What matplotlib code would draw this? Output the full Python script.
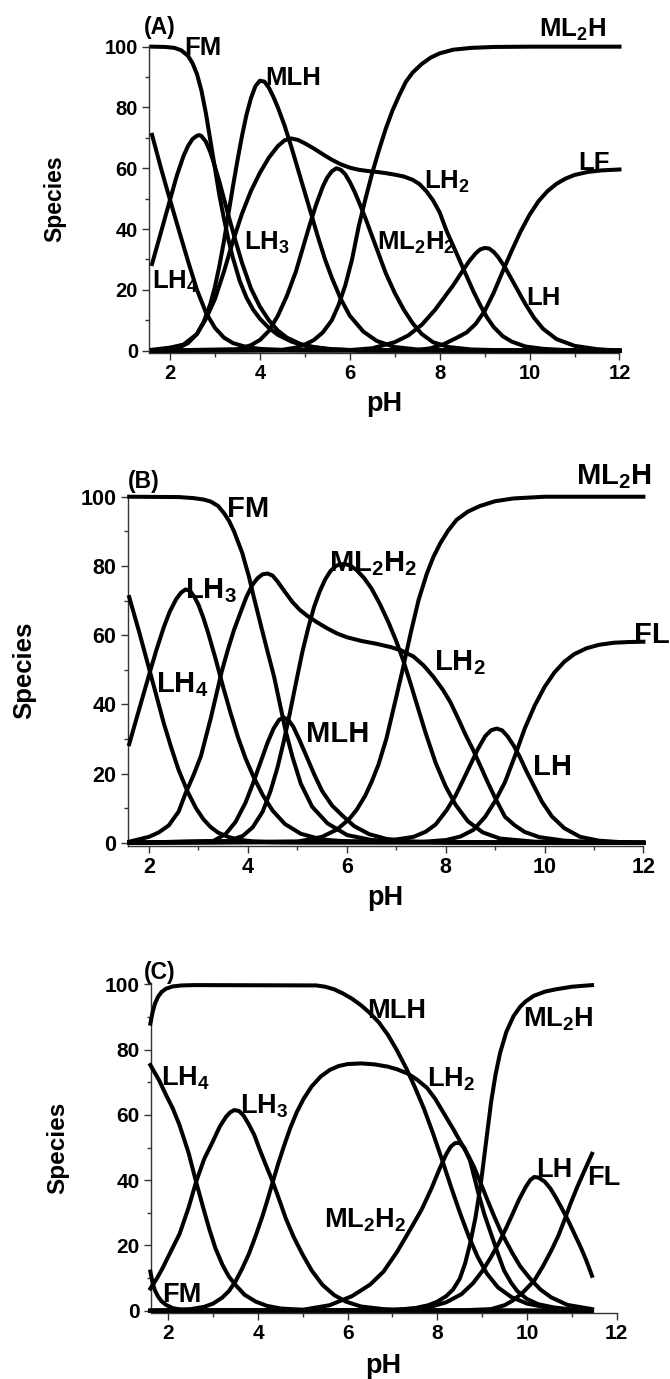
import matplotlib
matplotlib.use('Agg')
import matplotlib.pyplot as plt
from matplotlib.ticker import MultipleLocator

plt.rcParams['font.family'] = ['Liberation Sans', 'DejaVu Sans']
plt.rcParams['font.weight'] = 'bold'
plt.rcParams['mathtext.fontset'] = 'custom'
plt.rcParams['mathtext.rm'] = 'Liberation Sans:bold'
plt.rcParams['mathtext.it'] = 'Liberation Sans:bold'
plt.rcParams['mathtext.bf'] = 'Liberation Sans:bold'
plt.rcParams['mathtext.default'] = 'rm'

# ---------------- panel A ----------------
ph_fm_a = [1.6, 1.9, 2.1, 2.25, 2.4, 2.5, 2.6, 2.7, 2.8, 2.9, 3.0, 3.1, 3.2, 3.3, 3.4, 3.55, 3.7, 3.85,
           4.0, 4.2, 4.4, 4.7, 5.0, 5.5, 6.2, 12]
fm_a = [100, 99.9, 99.6, 98.8, 97, 94.6, 91, 85.5, 78, 69, 60, 51, 43.5, 36.5, 30.5, 23, 17.5, 13.5,
        10.5, 7.5, 5.2, 3, 1.6, 0.5, 0.1, 0]
ph_lh4_a = [1.6, 1.8, 2.0, 2.2, 2.4, 2.6, 2.8, 3.0, 3.2, 3.4, 3.7, 4.0, 4.5, 5.2, 12]
lh4_a = [71, 60, 49.6, 39.5, 29.5, 20, 12.5, 7.5, 4.3, 2.5, 1.2, 0.6, 0.2, 0.05, 0]
ph_lh3_a = [1.6, 1.8, 2.0, 2.15, 2.3, 2.4, 2.5, 2.6, 2.65, 2.7, 2.8, 2.9, 3.0, 3.1, 3.2, 3.3, 3.45,
            3.6, 3.8, 4.0, 4.2, 4.4, 4.6, 4.9, 5.2, 5.6, 6.2, 12]
lh3_a = [28.5, 39, 49.6, 57.5, 64, 67.3, 69.6, 70.7, 70.9, 70.6, 68.7, 65.2, 60.5, 55.5, 50, 44.5,
         36.5, 29, 20.5, 14.5, 10, 6.6, 4.3, 2.2, 1.2, 0.5, 0.1, 0]
ph_mlh_a = [1.6, 2.0, 2.2, 2.4, 2.6, 2.75, 2.9, 3.0, 3.1, 3.2, 3.3, 3.4, 3.5, 3.6, 3.7, 3.8, 3.9, 4.0,
            4.1, 4.2, 4.3, 4.4, 4.55, 4.7, 4.85, 5.0, 5.15, 5.3, 5.45, 5.6, 5.8, 6.0, 6.3, 6.6, 7.0,
            7.5, 8.2, 12]
mlh_a = [0, 0.4, 1, 2.5, 5.5, 9.5, 15.5, 21, 28, 36, 45, 54, 62.5, 70.5, 77.5, 83, 87, 88.8, 88.5,
         86.5, 83.5, 80, 74, 67, 59.5, 52, 44.5, 37, 30, 24, 17, 11.5, 6.3, 3.2, 1.2, 0.4, 0.1, 0]
ph_lh2_a = [1.6, 2.0, 2.3, 2.6, 2.8, 3.0, 3.2, 3.4, 3.6, 3.8, 4.0, 4.2, 4.4, 4.55, 4.7, 4.85, 5.0,
            5.2, 5.4, 5.6, 5.8, 6.0, 6.2, 6.4, 6.6, 6.8, 7.0, 7.2, 7.4, 7.55, 7.7, 7.85, 8.0, 8.15,
            8.3, 8.45, 8.6, 8.75, 8.9, 9.05, 9.2, 9.4, 9.6, 9.9, 10.3, 10.8, 12]
lh2_a = [0.3, 1, 2, 5.5, 10.5, 17, 26, 36, 45, 52.5, 58.5, 63.5, 67.3, 69.2, 69.8, 69.3, 68.2,
         66.5, 64.6, 62.8, 61.3, 60.2, 59.5, 59.1, 58.8, 58.4, 57.9, 57.3, 56.2, 54.8, 52.5, 49.5,
         45.5, 39.5, 34.5, 29.5, 24.5, 19.5, 15, 11, 7.8, 4.8, 3, 1.4, 0.6, 0.2, 0]
ph_ml2h2_a = [1.6, 3.5, 3.8, 4.0, 4.2, 4.4, 4.6, 4.8, 4.95, 5.1, 5.25, 5.4, 5.5, 5.6, 5.7, 5.8, 5.9,
              6.0, 6.1, 6.2, 6.35, 6.5, 6.65, 6.8, 7.0, 7.2, 7.4, 7.6, 7.85, 8.2, 8.7, 9.5, 12]
ml2h2_a = [0, 0.5, 1.8, 3.5, 6.5, 11.5, 18, 26, 33.5, 41, 48, 54, 57, 59, 60, 59.5, 58, 55.5, 52.5,
           49, 43.5, 37.5, 31.5, 25.5, 19, 13.5, 9, 5.5, 2.8, 1.2, 0.4, 0.1, 0]
ph_ml2h_a = [1.6, 4.5, 4.8, 5.0, 5.2, 5.4, 5.6, 5.75, 5.9, 6.05, 6.2, 6.35, 6.5, 6.65, 6.8, 6.95,
             7.1, 7.25, 7.4, 7.6, 7.8, 8.0, 8.3, 8.7, 9.2, 10, 12]
ml2h_a = [0, 0.3, 1, 2, 3.5, 6, 10, 15, 21.5, 30, 41, 50, 58.5, 66, 73, 79, 84, 88.5, 91.5, 94.3,
          96.4, 97.8, 99, 99.6, 99.9, 100, 100]
ph_lh_a = [1.6, 6.0, 6.5, 7.0, 7.3, 7.6, 7.9, 8.1, 8.3, 8.5, 8.65, 8.8, 8.9, 9.0, 9.1, 9.2, 9.3,
           9.45, 9.6, 9.75, 9.9, 10.1, 10.3, 10.6, 11.0, 11.5, 12]
lh_a = [0, 0.2, 0.8, 2.8, 5, 8.5, 13.5, 17.5, 21.5, 26, 29.3, 32, 33.3, 33.8, 33.6, 32.5, 30.8,
        27.5, 23.5, 19.5, 15.5, 10.8, 7.2, 3.8, 1.6, 0.5, 0]
ph_lf_a = [1.6, 7.5, 7.8, 8.1, 8.4, 8.6, 8.8, 9.0, 9.2, 9.4, 9.6, 9.8, 10.0, 10.2, 10.4, 10.6, 10.8,
           11.0, 11.3, 11.6, 12]
lf_a = [0, 0.2, 0.8, 2.2, 4.4, 6, 8.8, 13, 19, 26, 32.8, 39.2, 44.7, 49.2, 52.5, 54.9, 56.6, 57.8,
        58.8, 59.3, 59.6]

# ---------------- panel B ----------------
ph_fm_b = [1.6, 2.6, 2.9, 3.1, 3.25, 3.4, 3.52, 3.62, 3.72, 3.8, 3.89, 3.96, 4.02, 4.12, 4.26, 4.39,
           4.53, 4.66, 4.76, 4.9, 5.07, 5.3, 5.61, 6.01, 6.5, 7.2, 12]
fm_b = [100, 99.9, 99.6, 99.2, 98.6, 97.3, 95.2, 93, 90, 87, 83.6, 80, 77, 71, 63, 55.7, 48, 39.3,
        32.6, 24.9, 17.1, 10.4, 5.6, 2.2, 0.8, 0.2, 0]
ph_lh4_b = [1.6, 1.8, 2.02, 2.15, 2.3, 2.45, 2.6, 2.78, 2.95, 3.1, 3.25, 3.4, 3.6, 3.8, 4.1, 4.5,
            5.2, 12]
lh4_b = [71, 61, 49.4, 42.5, 34.5, 27.5, 21, 14.8, 10, 6.8, 4.5, 2.9, 1.7, 0.9, 0.4, 0.15, 0.05, 0]
ph_lh3_b = [1.6, 1.83, 2.02, 2.15, 2.3, 2.42, 2.55, 2.65, 2.74, 2.83, 2.92, 3.0, 3.1, 3.2, 3.35,
            3.5, 3.65, 3.8, 3.95, 4.1, 4.3, 4.5, 4.75, 5.07, 5.5, 6.2, 12]
lh3_b = [28.5, 40, 49.4, 55.7, 62.3, 66.8, 70.4, 72.3, 73.2, 72.8, 71, 68.8, 65, 60.5, 53, 45,
         37.5, 30.5, 24.5, 19.5, 13.8, 9.3, 5.4, 2.6, 0.9, 0.2, 0]
ph_mlh_b = [1.6, 3.3, 3.55, 3.75, 3.95, 4.1, 4.25, 4.4, 4.52, 4.63, 4.72, 4.82, 4.92, 5.05, 5.2,
            5.35, 5.5, 5.7, 5.9, 6.15, 6.45, 6.8, 7.3, 8.0, 12]
mlh_b = [0, 0.5, 2.5, 6, 11.5, 17, 23, 29, 33, 35.5, 36.2, 35.5, 33.5, 29.5, 24.5, 19.5, 15, 10.8,
         8, 4.8, 2.5, 1.1, 0.4, 0.1, 0]
ph_lh2_b = [1.6, 2.0, 2.2, 2.4, 2.6, 2.74, 2.9, 3.05, 3.25, 3.47, 3.6, 3.72, 3.85, 3.97, 4.09, 4.2,
            4.3, 4.4, 4.5, 4.6, 4.75, 4.9, 5.05, 5.2, 5.4, 5.6, 5.8, 6.0, 6.3, 6.6, 6.9, 7.1, 7.35,
            7.55, 7.75, 7.95, 8.1, 8.25, 8.4, 8.55, 8.7, 8.85, 9.0, 9.2, 9.4, 9.6, 9.9, 10.4, 11, 12]
lh2_b = [0.3, 1.7, 3, 5, 9, 14.3, 19.5, 25, 36, 49.4, 56, 61.5, 66.5, 71, 74.5, 76.5, 77.6, 77.8,
         77.2, 75.5, 72.5, 69.6, 67.3, 65.6, 63.7, 62, 60.5, 59.4, 58.3, 57.5, 56.5, 55.6, 53.8,
         51.3, 48, 44.1, 40.5, 36, 31.3, 27, 22.3, 17.5, 13, 7.5, 5, 3.1, 1.6, 0.6, 0.2, 0]
ph_ml2h2_b = [1.6, 3.6, 3.9, 4.1, 4.3, 4.46, 4.6, 4.73, 4.85, 4.97, 5.1, 5.22, 5.34, 5.45, 5.56,
              5.67, 5.78, 5.88, 5.98, 6.08, 6.2, 6.35, 6.5, 6.67, 6.85, 7.0, 7.14, 7.28, 7.45, 7.6,
              7.8, 8.0, 8.2, 8.45, 8.75, 9.1, 9.8, 12]
ml2h2_b = [0, 0.5, 2, 4.5, 9, 15, 21.8, 29.5, 37.5, 46, 55, 62, 68.2, 72.5, 76, 78.5, 80, 80.5,
           80.5, 80, 78.8, 76.5, 73.5, 69, 63.5, 58.3, 52.8, 46.5, 38.5, 31.5, 23, 16.3, 11, 6.2,
           3, 1.2, 0.3, 0]
ph_ml2h_b = [1.6, 5.0, 5.5, 5.8, 6.04, 6.2, 6.37, 6.5, 6.64, 6.8, 6.95, 7.13, 7.3, 7.45, 7.62, 7.75,
             7.89, 8.05, 8.22, 8.45, 8.69, 9.0, 9.37, 10, 12]
ml2h_b = [0, 0.3, 1.7, 3.8, 6.7, 9.5, 13.5, 17.5, 22.5, 30, 39, 50, 61, 70, 77.8, 82.5, 86.5, 90.2,
          93.3, 95.7, 97.3, 98.7, 99.5, 100, 100]
ph_lh_b = [1.6, 6.8, 7.35, 7.6, 7.8, 8.02, 8.2, 8.35, 8.5, 8.65, 8.8, 8.92, 9.03, 9.14, 9.25, 9.38,
           9.5, 9.64, 9.8, 9.95, 10.15, 10.4, 10.72, 11.1, 11.5, 12]
lh_b = [0, 0.5, 1.7, 3.2, 5.3, 9.4, 13.6, 18, 22.5, 27, 30.8, 32.5, 33, 32.5, 30.8, 28, 24.8, 20.5,
        16, 11.8, 7.6, 4.2, 1.7, 0.6, 0.2, 0]
ph_fl_b = [1.6, 7.5, 8.02, 8.3, 8.56, 8.8, 9.0, 9.2, 9.4, 9.6, 9.8, 10.0, 10.2, 10.4, 10.6, 10.85,
           11.1, 11.4, 11.7, 12]
fl_b = [0, 0.2, 0.8, 1.8, 3.7, 7.5, 12, 17.5, 25, 33, 39.6, 45, 49.2, 52.3, 54.5, 56.2, 57.2, 57.8,
        58, 58.1]

# ---------------- panel C ----------------
ph_mlh_c = [1.6, 1.65, 1.7, 1.77, 1.85, 1.95, 2.1, 2.3, 2.6, 5.3, 5.5, 5.7, 5.9, 6.1, 6.3, 6.5,
            6.7, 6.9, 7.1, 7.3, 7.5, 7.7, 7.9, 8.1, 8.3, 8.5, 8.7, 8.9, 9.1, 9.35, 9.65, 10.0, 10.5,
            11.0, 11.45]
mlh_c = [88, 91.5, 94, 96.2, 97.7, 98.7, 99.4, 99.7, 99.8, 99.7, 99.3, 98.5, 97.2, 95.6, 93.6,
         91.2, 88.3, 84.5, 79.8, 74.5, 68.5, 62, 54.5, 46.5, 38.2, 30.2, 22.8, 16.5, 11.5, 7.2, 4.2,
         2.2, 0.8, 0.3, 0.1]
ph_lh4_c = [1.6, 1.8, 1.95, 2.1, 2.25, 2.45, 2.62, 2.78, 2.91, 3.05, 3.21, 3.35, 3.5, 3.7, 3.95,
            4.2, 4.5, 5.2, 11.45]
lh4_c = [75.3, 70.5, 66.1, 62, 56.9, 48.5, 39.5, 31.5, 25.2, 19.2, 14, 10.5, 7.9, 4.9, 2.8, 1.5,
         0.7, 0.1, 0]
ph_lh3_c = [1.6, 1.75, 1.87, 2.05, 2.25, 2.45, 2.62, 2.8, 2.99, 3.15, 3.29, 3.38, 3.47, 3.58, 3.68,
            3.8, 3.92, 4.03, 4.18, 4.33, 4.48, 4.62, 4.8, 5.0, 5.2, 5.44, 5.7, 5.96, 6.3, 6.8, 7.5,
            11.45]
lh3_c = [6.8, 10, 13, 18, 23.5, 31.5, 39.5, 46.5, 51.8, 56.5, 59.5, 60.8, 61.5, 61.2, 59.8, 57,
         53.8, 49.7, 44.5, 39.5, 33.8, 28.3, 22.5, 17.1, 12.3, 7.9, 4.8, 2.8, 1.3, 0.5, 0.1, 0]
ph_fm_c = [1.6, 1.65, 1.7, 1.77, 1.85, 1.95, 2.1, 2.3, 2.6, 11.45]
fm_c = [12, 8.5, 6.3, 4.4, 2.9, 1.8, 0.8, 0.3, 0.1, 0]
ph_lh2_c = [1.6, 2.5, 2.8, 3.0, 3.2, 3.35, 3.5, 3.65, 3.8, 3.95, 4.1, 4.22, 4.33, 4.45, 4.58, 4.72,
            4.87, 5.02, 5.2, 5.4, 5.6, 5.8, 6.0, 6.3, 6.6, 6.9, 7.1, 7.34, 7.55, 7.77, 7.95, 8.15,
            8.35, 8.54, 8.7, 8.82, 8.97, 9.11, 9.25, 9.4, 9.55, 9.68, 9.85, 10.06, 10.3, 10.54,
            10.9, 11.45]
lh2_c = [0, 0.5, 1.2, 2.2, 4, 6, 9, 13, 17.5, 23, 29, 34.3, 39.5, 45, 50.5, 56, 61, 65, 68.8, 71.8,
         73.8, 75, 75.6, 75.8, 75.5, 74.8, 74, 72.7, 70.8, 68.3, 65, 60.4, 55.8, 51.2, 47.3, 44, 39,
         34.2, 29.5, 24.8, 20.8, 17.5, 13.6, 10, 6.5, 4.1, 1.8, 0.5]
ph_ml2h2_c = [1.6, 5.0, 5.6, 6.1, 6.5, 6.8, 7.1, 7.4, 7.65, 7.87, 8.05, 8.2, 8.3, 8.4, 8.5, 8.6,
              8.73, 8.92, 9.05, 9.2, 9.35, 9.49, 9.65, 9.78, 10.0, 10.25, 10.6, 10.92, 11.45]
ml2h2_c = [0, 0.3, 1.7, 4.5, 8, 12, 18, 25, 31, 37.5, 43.5, 48, 50.3, 51.4, 51.4, 50, 46, 35.8,
           29.5, 23.5, 17.5, 12.3, 8.5, 6.1, 3.6, 2, 1, 0.5, 0.1]
ph_ml2h_c = [1.6, 7.0, 7.5, 7.8, 8.0, 8.2, 8.35, 8.5, 8.62, 8.73, 8.85, 8.97, 9.11, 9.2, 9.3, 9.4,
             9.54, 9.7, 9.85, 9.97, 10.15, 10.4, 10.64, 11.0, 11.45]
ml2h_c = [0, 0.2, 0.8, 1.7, 2.8, 4.5, 6.5, 9.8, 14.5, 20.5, 28.5, 38.9, 54.2, 64, 72.5, 79, 85.5,
          90.3, 93.2, 94.8, 96.5, 97.8, 98.5, 99.3, 99.8]
ph_lh_c = [1.6, 7.0, 7.8, 8.2, 8.54, 8.8, 9.01, 9.2, 9.4, 9.55, 9.68, 9.82, 9.97, 10.07, 10.16,
           10.26, 10.4, 10.52, 10.64, 10.78, 10.92, 11.06, 11.2, 11.32, 11.45]
lh_c = [0, 0.2, 1, 2.6, 5.1, 8.5, 12.3, 16.5, 21.5, 25.8, 29.7, 34, 37.9, 40, 41, 40.8, 39.5, 37.5,
        34.8, 31.3, 27.6, 23.5, 19.4, 15.5, 10.7]
ph_fl_c = [1.6, 8.5, 9.2, 9.5, 9.68, 9.9, 10.16, 10.35, 10.54, 10.7, 10.83, 10.97, 11.12, 11.3, 11.45]
fl_c = [0, 0.1, 0.5, 1.7, 3.1, 5.5, 9.2, 13.5, 18.4, 23, 27.6, 32.8, 37.9, 43.5, 48.1]

curves_a = [(ph_fm_a, fm_a), (ph_lh4_a, lh4_a), (ph_lh3_a, lh3_a), (ph_mlh_a, mlh_a),
            (ph_lh2_a, lh2_a), (ph_ml2h2_a, ml2h2_a), (ph_ml2h_a, ml2h_a), (ph_lh_a, lh_a),
            (ph_lf_a, lf_a)]
curves_b = [(ph_fm_b, fm_b), (ph_lh4_b, lh4_b), (ph_lh3_b, lh3_b), (ph_mlh_b, mlh_b),
            (ph_lh2_b, lh2_b), (ph_ml2h2_b, ml2h2_b), (ph_ml2h_b, ml2h_b), (ph_lh_b, lh_b),
            (ph_fl_b, fl_b)]
curves_c = [(ph_mlh_c, mlh_c), (ph_lh4_c, lh4_c), (ph_lh3_c, lh3_c), (ph_fm_c, fm_c),
            (ph_lh2_c, lh2_c), (ph_ml2h2_c, ml2h2_c), (ph_ml2h_c, ml2h_c), (ph_lh_c, lh_c),
            (ph_fl_c, fl_c)]

# species names shown next to the curves
names_a = ['FM', 'MLH', r'ML$_2$H', 'LF', r'LH$_2$', r'LH$_3$', r'ML$_2$H$_2$', r'LH$_4$', 'LH']
names_b = ['FM', r'ML$_2$H', r'ML$_2$H$_2$', r'LH$_3$', 'FL', r'LH$_2$', r'LH$_4$', 'MLH', 'LH']
names_c = ['MLH', r'ML$_2$H', r'LH$_4$', r'LH$_2$', r'LH$_3$', 'LH', 'FL', r'ML$_2$H$_2$', 'FM']

fig = plt.figure(figsize=(6.7, 13.79), dpi=100)

# label anchors (left pH, baseline) for each panel
anchors_a = [(2.31, 97.3), (4.12, 87.3), (10.2, 103.3), (11.08, 59.4), (7.65, 53.1), (3.65, 33.1),
             (6.6, 33.1), (1.6, 20.5), (9.93, 15.0)]
anchors_b = [(3.58, 94.2), (10.63, 103.7), (5.65, 78.6), (2.73, 70.8), (11.8, 57.6), (7.77, 49.9),
             (2.15, 43.4), (5.18, 29.2), (9.77, 19.6)]
anchors_c = [(6.44, 89.6), (9.92, 87.2), (1.84, 69.1), (7.77, 68.6), (3.59, 60.6), (10.2, 40.9),
             (11.35, 38.4), (5.48, 25.6), (1.86, 2.6)]

panels = [
    ('(A)', curves_a, names_a, anchors_a, [0.2224, 0.7438, 0.7022, 0.2236], (1.533, 12),
     (-0.86, 100.56), (1.78, 104.0), 18.5, 14.5, 16.5, -0.164),
    ('(B)', curves_b, names_b, anchors_b, [0.1904, 0.3865, 0.7699, 0.2548], (1.567, 12),
     (-0.95, 100.6), (1.885, 102.5), 21, 15.5, 18.5, -0.148),
    ('(C)', curves_c, names_c, anchors_c, [0.2249, 0.0476, 0.6955, 0.2397], (1.607, 12),
     (-0.8, 100.5), (1.81, 101.8), 19.5, 15, 17.5, -0.159),
]

for tag, curves, names, anchors, rect, xl, yl, tagpos, lab_fs, tick_fs, ax_fs, xlab_y in panels:
    ax = fig.add_axes(rect)
    for ph, val in curves:
        ax.plot(ph, val, color='black', lw=2.9, clip_on=False, zorder=3)
    ax.set_xlim(*xl)
    ax.set_ylim(*yl)
    for s in ['top', 'right']:
        ax.spines[s].set_visible(False)
    for s in ['left', 'bottom']:
        ax.spines[s].set_linewidth(1.0)
        ax.spines[s].set_color('#333333')
    ax.xaxis.set_major_locator(MultipleLocator(2))
    ax.xaxis.set_minor_locator(MultipleLocator(1))
    ax.yaxis.set_major_locator(MultipleLocator(20))
    ax.yaxis.set_minor_locator(MultipleLocator(10))
    ax.tick_params(which='major', direction='out', length=5, width=1, labelsize=tick_fs,
                   color='#333333', pad=3)
    ax.tick_params(which='minor', direction='out', length=3, width=1, color='#333333')
    ax.set_xlabel('pH', fontsize=19.5, fontweight='bold')
    ax.xaxis.set_label_coords(0.5, xlab_y)
    ax.xaxis.label.set_verticalalignment('center')
    ax.set_ylabel('Species', fontsize=ax_fs, fontweight='bold')
    ax.yaxis.set_label_coords(-0.2, 0.5)
    ax.yaxis.label.set_verticalalignment('center')
    for txt, (lx, ly) in zip(names, anchors):
        ax.text(lx, ly, txt, fontsize=lab_fs, fontweight='bold', ha='left', va='baseline',
                zorder=2, clip_on=False)
    ax.text(tagpos[0], tagpos[1], tag, fontsize=16.5, fontweight='bold', ha='center',
            va='baseline', clip_on=False)

fig.savefig('out.png', dpi=100)
